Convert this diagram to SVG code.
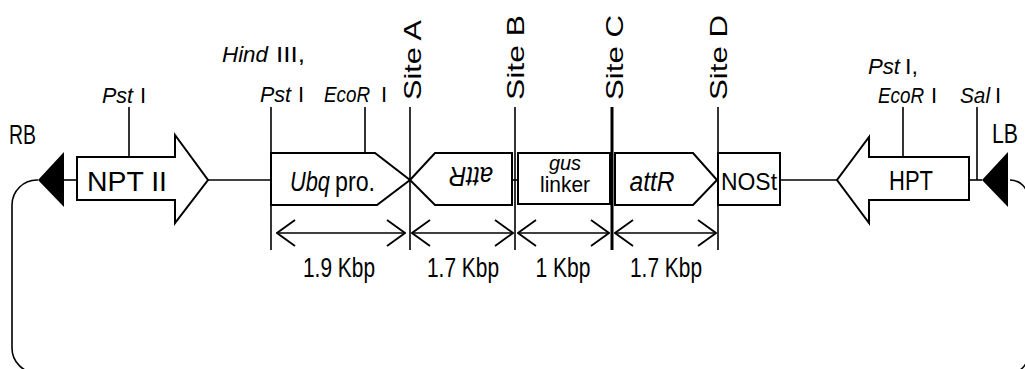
<svg xmlns="http://www.w3.org/2000/svg" width="1025" height="369" viewBox="0 0 1025 369">
  <style>
    .ln { stroke: #000; stroke-width: 1.6; fill: none; }
    .thick { stroke: #000; stroke-width: 3; fill: none; }
    .box { stroke: #000; stroke-width: 2; fill: #fff; }
    .tri { fill: #000; stroke: none; }
    .t { font-family: "Liberation Sans", Arial, sans-serif; fill: #000; }
    .lbl { font-size: 22px; }
    .big { font-size: 27px; }
    .site { font-size: 24px; }
    .kbp { font-size: 27px; }
    .it { font-style: italic; }
  </style>
  <defs>
    <!-- open chevron head; reversed at the start of a line -->
    <marker id="chev" viewBox="0 0 20 28" refX="19" refY="14" markerWidth="20" markerHeight="28" markerUnits="userSpaceOnUse" orient="auto-start-reverse">
      <path d="M1,1 L19,14 L1,27" fill="none" stroke="#000" stroke-width="1.8"/>
    </marker>
  </defs>

  <!-- backbone, loop and site lines -->
  <g id="connectors">
    <path class="ln" d="M38,180 A25,25 0 0,0 12,205 L12,348 A25,25 0 0,0 37,373 L1010,373 A18,18 0 0,0 1028,355 L1028,198 A18,18 0 0,0 1010,180"/>
    <line class="ln" x1="64" y1="180" x2="77" y2="180"/>
    <line class="ln" x1="208" y1="180" x2="271" y2="180"/>
    <line class="ln" x1="512" y1="180" x2="518" y2="180"/>
    <line class="ln" x1="780" y1="180" x2="837" y2="180"/>
    <line class="ln" x1="969" y1="180" x2="982" y2="180"/>
    <!-- restriction site ticks -->
    <line class="ln" x1="129" y1="107" x2="129" y2="157"/>
    <line class="ln" x1="271" y1="107" x2="271" y2="250"/>
    <line class="ln" x1="365" y1="107" x2="365" y2="153"/>
    <line class="ln" x1="903" y1="107" x2="903" y2="157"/>
    <line class="ln" x1="977" y1="107" x2="977" y2="180"/>
    <!-- recombination sites -->
    <line class="ln" x1="410" y1="107" x2="410" y2="250"/>
    <line class="ln" x1="515" y1="107" x2="515" y2="250"/>
    <line class="thick" x1="612" y1="107" x2="612" y2="250"/>
    <line class="ln" x1="718" y1="107" x2="718" y2="250"/>
    <!-- size arrows -->
    <line class="ln" x1="277" y1="233" x2="405" y2="233" stroke-width="2" marker-start="url(#chev)" marker-end="url(#chev)"/>
    <line class="ln" x1="412" y1="233" x2="513" y2="233" stroke-width="2" marker-start="url(#chev)" marker-end="url(#chev)"/>
    <line class="ln" x1="518" y1="233" x2="609" y2="233" stroke-width="2" marker-start="url(#chev)" marker-end="url(#chev)"/>
    <line class="ln" x1="615" y1="233" x2="716" y2="233" stroke-width="2" marker-start="url(#chev)" marker-end="url(#chev)"/>
  </g>

  <g id="rb">
    <polygon class="tri" points="38,180 64,152 64,207"/>
    <text class="t big" x="9" y="144" font-size="25" textLength="27" lengthAdjust="spacingAndGlyphs">RB</text>
  </g>

  <g id="npt">
    <polygon class="box" points="77,157 175,157 175,135 208,180 175,223 175,200 77,200"/>
    <text class="t big" x="127" y="191" text-anchor="middle" textLength="80" lengthAdjust="spacingAndGlyphs">NPT II</text>
    <text class="t lbl it" x="102" y="103" textLength="31" lengthAdjust="spacingAndGlyphs">Pst</text>
    <text class="t lbl" x="140" y="103">I</text>
  </g>

  <g id="ubq">
    <polygon class="box" points="271,153 375,153 410,180 377,205 271,205"/>
    <text class="t big it" x="290" y="191" textLength="40" lengthAdjust="spacingAndGlyphs">Ubq</text>
    <text class="t big" x="335" y="191" textLength="40" lengthAdjust="spacingAndGlyphs">pro.</text>
    <text class="t lbl it" x="222" y="62" textLength="46" lengthAdjust="spacingAndGlyphs">Hind</text>
    <text class="t lbl" x="276" y="62" textLength="29" lengthAdjust="spacingAndGlyphs">III,</text>
    <text class="t lbl it" x="260" y="102" textLength="31" lengthAdjust="spacingAndGlyphs">Pst</text>
    <text class="t lbl" x="298" y="102">I</text>
    <text class="t lbl it" x="324" y="102" textLength="46" lengthAdjust="spacingAndGlyphs">EcoR</text>
    <text class="t lbl" x="381" y="102">I</text>
  </g>

  <g id="attr-rev">
    <polygon class="box" points="410,180 435,153 512,153 512,205 435,205"/>
    <text class="t big it" x="471" y="185" text-anchor="middle" transform="rotate(180 471 176)" textLength="44" lengthAdjust="spacingAndGlyphs">attR</text>
  </g>

  <g id="gus">
    <rect class="box" x="518" y="153" width="92" height="51"/>
    <text class="t it" x="565" y="170" font-size="20" text-anchor="middle">gus</text>
    <text class="t" x="565" y="192" font-size="22" text-anchor="middle" textLength="50" lengthAdjust="spacingAndGlyphs">linker</text>
  </g>

  <g id="attr">
    <polygon class="box" points="615,153 693,153 717,180 693,205 615,205"/>
    <text class="t big it" x="652" y="191" text-anchor="middle" textLength="45" lengthAdjust="spacingAndGlyphs">attR</text>
  </g>

  <g id="nost">
    <rect class="box" x="718" y="153" width="62" height="52"/>
    <text class="t" x="749" y="190" font-size="23" text-anchor="middle" textLength="56" lengthAdjust="spacingAndGlyphs">NOSt</text>
  </g>

  <g id="hpt">
    <polygon class="box" points="969,157 969,200 869,200 869,223 837,180 869,137 869,157"/>
    <text class="t big" x="911" y="190" text-anchor="middle" textLength="44" lengthAdjust="spacingAndGlyphs">HPT</text>
    <text class="t lbl it" x="868" y="74" textLength="32" lengthAdjust="spacingAndGlyphs">Pst</text>
    <text class="t lbl" x="905" y="74" textLength="13" lengthAdjust="spacingAndGlyphs">I,</text>
    <text class="t lbl it" x="878" y="103" textLength="46" lengthAdjust="spacingAndGlyphs">EcoR</text>
    <text class="t lbl" x="931" y="103">I</text>
    <text class="t lbl it" x="960" y="103" textLength="30" lengthAdjust="spacingAndGlyphs">Sal</text>
    <text class="t lbl" x="995" y="103">I</text>
  </g>

  <g id="lb">
    <polygon class="tri" points="982,180 1008,152 1008,207"/>
    <text class="t big" x="992" y="143" font-size="25" textLength="26" lengthAdjust="spacingAndGlyphs">LB</text>
  </g>

  <!-- site labels, reading upward -->
  <g id="sites">
    <text class="t site" transform="translate(421 100) rotate(-90)" textLength="80" lengthAdjust="spacingAndGlyphs">Site A</text>
    <text class="t site" transform="translate(524 100) rotate(-90)" textLength="85" lengthAdjust="spacingAndGlyphs">Site B</text>
    <text class="t site" transform="translate(623 100) rotate(-90)" textLength="85" lengthAdjust="spacingAndGlyphs">Site C</text>
    <text class="t site" transform="translate(727 100) rotate(-90)" textLength="85" lengthAdjust="spacingAndGlyphs">Site D</text>
  </g>

  <g id="sizes">
    <text class="t kbp" x="339" y="277" text-anchor="middle" textLength="72" lengthAdjust="spacingAndGlyphs">1.9 Kbp</text>
    <text class="t kbp" x="463" y="277" text-anchor="middle" textLength="72" lengthAdjust="spacingAndGlyphs">1.7 Kbp</text>
    <text class="t kbp" x="563" y="277" text-anchor="middle" textLength="55" lengthAdjust="spacingAndGlyphs">1 Kbp</text>
    <text class="t kbp" x="666" y="277" text-anchor="middle" textLength="72" lengthAdjust="spacingAndGlyphs">1.7 Kbp</text>
  </g>
</svg>
